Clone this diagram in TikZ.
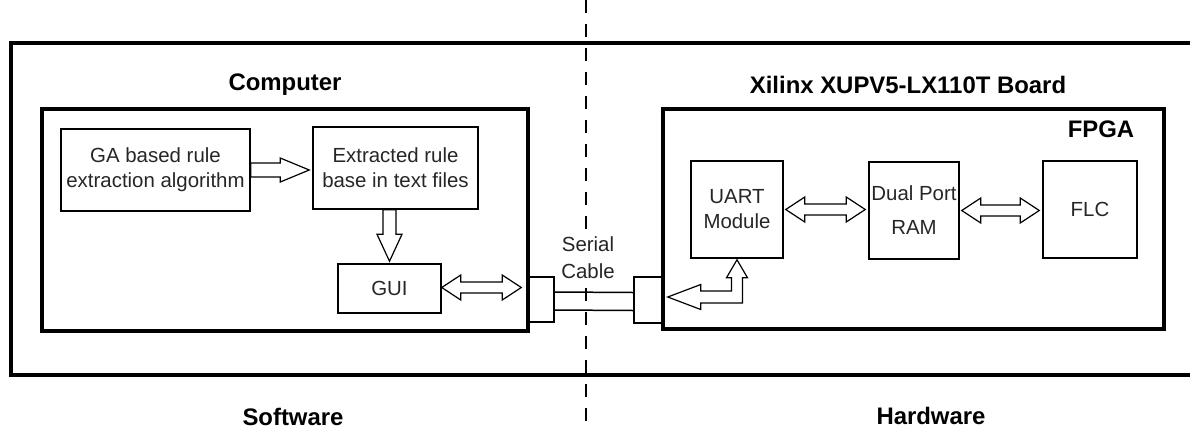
\documentclass[tikz,border=0pt]{standalone}
\usepackage{fontspec}
\setmainfont{Liberation Sans}
\usetikzlibrary{calc}

% hollow double-headed block arrow, drawn at the height of #1
\newcommand\dblarrow[2]{%
  \draw[blk] let \p1=(#1), \p2=(#2) in
    (\x1,\y1) -- (\x1+19bp,\y1+12.5bp) -- (\x1+19bp,\y1+5.5bp)
    -- (\x2-19bp,\y1+5.5bp) -- (\x2-19bp,\y1+12.5bp) -- (\x2,\y1)
    -- (\x2-19bp,\y1-12.5bp) -- (\x2-19bp,\y1-5.5bp)
    -- (\x1+19bp,\y1-5.5bp) -- (\x1+19bp,\y1-12.5bp) -- cycle;}

\begin{document}
\begin{tikzpicture}[x=1bp,y=-1bp,font=\fontsize{20.5}{25}\selectfont,
  box/.style={draw,line width=1.5bp,align=center,inner sep=0pt,text=black!85},
  frame/.style={draw,line width=4bp,inner sep=0pt},
  title/.style={font=\fontsize{24}{29}\selectfont\bfseries,anchor=base},
  blk/.style={draw,line width=1.2bp,line join=miter},
  wire/.style={line width=1.5bp}]
  \useasboundingbox (0,0) rectangle (1190,430);
  % software / hardware split
  \draw[line width=1.5bp,dash pattern=on 13bp off 11bp] (586,0) -- (586,430);
  \draw[line width=4bp] (1190,43) -- (11,43) -- (11,375) -- (1190,375);
  \node[title] (software) at (293,425) {Software};
  \node[title] (hardware) at (931,424) {Hardware};

  % computer side
  \node[frame,minimum width=486bp,minimum height=222bp] (computer) at (285,220) {};
  \node[title] (comptitle) at (285,90) {Computer};
  \node[box,minimum width=189bp,minimum height=82bp] (ga) at (155.5,170)
    {GA based rule\\extraction algorithm};
  \node[box,minimum width=165bp,minimum height=82bp] (ext) at (395.5,168)
    {Extracted rule\\base in text files};
  \node[box,minimum width=103bp,minimum height=49bp] (gui) at (389.5,288.5) {GUI};

  % board side
  \node[frame,minimum width=501bp,minimum height=220bp] (fpga) at (913.5,219) {};
  \node[title] (boardtitle) at (908,93) {Xilinx XUPV5-LX110T Board};
  \node[title] (fpgatitle) at (1101,137) {FPGA};
  \node[box,minimum width=92bp,minimum height=97bp] (uart) at (737,209.5)
    {UART\\Module};
  \node[box,minimum width=90bp,minimum height=97bp] (ram) at (914,210.5)
    {Dual Port\\[9bp]RAM};
  \node[box,minimum width=94bp,minimum height=97bp] (flc) at (1090,209.5) {FLC};

  % serial cable with its two plugs
  \node[box,minimum width=26bp,minimum height=45bp] (lcon) at (541,299.5) {};
  \node[box,minimum width=28bp,minimum height=46bp] (rcon) at (648,300) {};
  \draw[wire] ([yshift=7.5bp]lcon.east) -- ([yshift=7.5bp]rcon.west);
  \draw[wire] ([yshift=-10.5bp]lcon.east) -- ([yshift=-10.5bp]rcon.west);
  \node[align=center,text=black!85,fill=white,inner sep=1bp,
    font=\fontsize{20.5}{27}\selectfont] (serial) at (588,258) {Serial\\Cable};

  % block arrows
  \draw[blk] let \p1=(ga.east), \p2=([xshift=-3bp]ext.west) in
    (\x1,\y1+7bp) -- (\x2-29bp,\y1+7bp) -- (\x2-29bp,\y1+12bp) -- (\x2,\y1)
    -- (\x2-29bp,\y1-12bp) -- (\x2-29bp,\y1-7bp) -- (\x1,\y1-7bp) -- cycle;
  \draw[blk] let \p1=(ext.south), \p2=([yshift=2bp]gui.north) in
    (\x2-6.5bp,\y1) -- (\x2-6.5bp,\y2+27bp) -- (\x2-12.5bp,\y2+27bp) -- (\x2,\y2)
    -- (\x2+12.5bp,\y2+27bp) -- (\x2+6.5bp,\y2+27bp) -- (\x2+6.5bp,\y1) -- cycle;
  \dblarrow{[yshift=1bp]gui.east}{[xshift=-6bp]lcon.west}
  \dblarrow{[xshift=2bp]uart.east}{[xshift=-3bp]ram.west}
  \dblarrow{[xshift=2bp]ram.east}{[xshift=-3bp]flc.west}
  \draw[blk] let \p1=([shift={(5bp,3bp)}]rcon.east), \p2=(uart.south) in
    (\x1,\y1) -- (\x1+33bp,\y1+12.5bp) -- (\x1+33bp,\y1+6bp)
    -- (\x2-5.5bp,\y1+6bp) -- (\x2-5.5bp,\y2-19bp) -- (\x2-10.5bp,\y2-19bp)
    -- (\x2,\y2-1bp) -- (\x2+10.5bp,\y2-19bp) -- (\x2+5.5bp,\y2-19bp)
    -- (\x2+5.5bp,\y1-6bp) -- (\x1+33bp,\y1-6bp) -- (\x1+33bp,\y1-12.5bp) -- cycle;
\end{tikzpicture}
\end{document}
